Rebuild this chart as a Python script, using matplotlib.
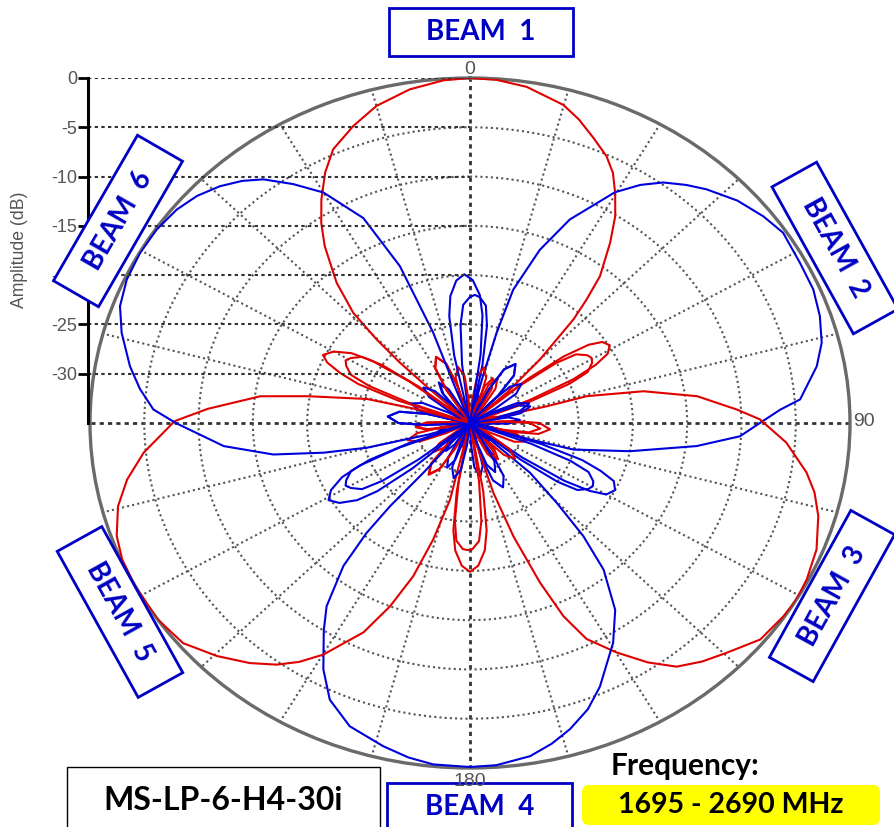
import numpy as np
import matplotlib
matplotlib.use('Agg')
import matplotlib.pyplot as plt
from matplotlib.patches import Rectangle, FancyBboxPatch

#####################################################################
# Beam patterns: angle (deg, clockwise from 0) and
# amplitude (dB); -35 dB is the centre of the plot
#####################################################################

b1_deg = [-180,
          -176, -173, -170, -165, -160, -157, -154,
          -155, -152, -149, -144, -139, -136, -133,
          -118, -115, -112, -107, -102, -99, -96,
          -105, -102, -99, -94, -89, -86, -83,
          -72, -70, -68, -66, -63, -61, -59, -56, -54, -52, -50,
          -47.3, -46.5, -45.4, -43.9, -40.8, -36.7, -34, -31.1, -27.7, -24.4,
          -19.6, -15, -9.3, -4, 0, 4, 8.7, 14.9, 18, 21.4,
          24.9, 27.4, 29.8, 32.5, 35.2, 38.8, 40.6, 42.2, 45, 47.8,
          48, 50, 52, 54, 56, 58.5, 61, 63, 65, 67, 69,
          84, 87, 90, 95, 100, 103, 106,
          99, 102, 105, 110, 115, 118, 121,
          137, 140, 143, 148, 153, 156, 159,
          154, 157, 160, 165, 170, 173, 176,
          180]
b1_db = [-35,
         -35, -34.5, -33.5, -32.5, -33.5, -34.5, -35,
         -35, -32, -29.5, -28.5, -29.5, -32, -35,
         -35, -32.5, -30, -29, -30, -32.5, -35,
         -35, -33.5, -31, -30, -31, -33.5, -35,
         -35, -29, -25, -23, -22.2, -21.9, -22.2, -23, -25, -29, -35,
         -30, -26.1, -22.9, -19.5, -16.2, -12.6, -10.5, -8.5, -6.3, -4.5,
         -3.0, -1.7, -0.7, -0.15, 0, -0.1, -0.5, -1.6, -2.6, -3.9,
         -5.15, -6.4, -8.1, -10.1, -12.6, -15.9, -18.5, -20.8, -25.9, -30.4,
         -35, -28, -24, -21.5, -20.3, -19.9, -20.5, -22, -24.5, -29, -35,
         -35, -31, -28.6, -27.6, -28.6, -31, -35,
         -35, -33, -30.5, -29.5, -30.5, -33, -35,
         -35, -34, -31.5, -30.5, -31.5, -34, -35,
         -35, -34.5, -33.5, -32.5, -33.5, -34.5, -35,
         -35]

b2_deg = [-120,
          -116, -113, -110, -105, -100, -97, -94,
          -96, -93, -90, -85, -80, -77, -74,
          -61, -58, -55, -50, -45, -42, -39,
          -46, -43, -40, -35, -30, -27, -24,
          -9, -7, -5, -3, 0, 2, 4, 7, 9, 11, 13,
          14, 15, 16.4, 20.1, 24, 29.7, 33, 36.1, 39.5, 42.6,
          47.5, 52.2, 56.2, 61.9, 66.8, 71.4, 75.9, 79.8, 85.5, 87.3,
          90, 93.1, 96.4, 101, 105.8, 106.8,
          106, 108, 110, 112, 114, 117, 120, 122, 124, 126, 128,
          144, 147, 150, 155, 160, 163, 166,
          159, 162, 165, 170, 175, 178, 181,
          194, 197, 200, 205, 210, 213, 216,
          214, 217, 220, 225, 230, 233, 236,
          240]
b2_db = [-35,
         -35, -34.5, -33, -32, -33, -34.5, -35,
         -35, -30.9, -28.4, -27.4, -28.4, -30.9, -35,
         -35, -32.9, -30.4, -29.4, -30.4, -32.9, -35,
         -35, -33.7, -31.2, -30.2, -31.2, -33.7, -35,
         -35, -29, -25, -23, -22.2, -22, -22.2, -23, -25, -29, -35,
         -30, -25.5, -20.9, -16.3, -12.4, -8.05, -6.2, -4.8, -3.7, -2.8,
         -1.6, -0.8, -0.3, -0.54, -0.6, -1.0, -1.6, -2.55, -4.5, -6.4,
         -8.3, -10.1, -14, -20, -25.1, -29.2,
         -35, -28, -24, -22, -20.5, -20, -20.5, -22, -24.5, -29, -35,
         -35, -31.3, -28.8, -27.8, -28.8, -31.3, -35,
         -35, -33, -30.5, -29.5, -30.5, -33, -35,
         -35, -33.5, -31, -30, -31, -33.5, -35,
         -35, -34.5, -33, -32, -33, -34.5, -35,
         -35]

b3_deg = [-60,
          -56, -53, -50, -45, -40, -37, -34,
          -36, -33, -30, -25, -20, -17, -14,
          2, 5, 8, 13, 18, 21, 24,
          18, 21, 24, 29, 34, 37, 40,
          48.5, 50.5, 52.5, 54.5, 57.5, 59.5, 61.5, 64.5, 66.5, 68.5, 70.5,
          77, 76.5, 75.8, 78.6, 82.6, 86.8, 89.2, 93.9, 99.2, 102.5,
          106.4, 111.9, 117.1, 121, 124.2, 129.4, 134.6, 138.5, 142.4, 146,
          149.9, 153.9, 156.3, 158.3, 160.8, 163.1, 164.5,
          168, 170, 172, 174, 177, 180, 183, 186, 188, 190, 192,
          205, 208, 211, 216, 221, 224, 227,
          218, 221, 224, 229, 234, 237, 240,
          254, 257, 260, 265, 270, 273, 276,
          274, 277, 280, 285, 290, 293, 296,
          300]
b3_db = [-35,
         -35, -34.5, -33.5, -32.5, -33.5, -34.5, -35,
         -35, -31.1, -28.6, -27.6, -28.6, -31.1, -35,
         -35, -32.7, -30.2, -29.2, -30.2, -32.7, -35,
         -35, -33.3, -30.8, -29.8, -30.8, -33.3, -35,
         -35, -29, -25, -23, -22.2, -22, -22.2, -23, -25, -29, -35,
         -35, -27.7, -23.9, -18.7, -13.9, -10.4, -8.3, -5.8, -3.6, -2.5,
         -1.56, -0.6, -0.16, 0, -0.1, -0.4, -1.8, -2.7, -3.8, -5.7,
         -8.1, -10.6, -13.6, -17.6, -22.8, -27.6, -33,
         -35, -28, -24, -22, -20.5, -19.9, -20.5, -22, -24, -28, -35,
         -35, -32.1, -29.6, -28.6, -29.6, -32.1, -35,
         -35, -34, -31.5, -30.5, -31.5, -34, -35,
         -35, -33.5, -31, -30, -31, -33.5, -35,
         -35, -34.5, -33.5, -32.5, -33.5, -34.5, -35,
         -35]

b4_deg = [0,
          4, 7, 10, 15, 20, 23, 26,
          24, 27, 30, 35, 40, 43, 46,
          59, 62, 65, 70, 75, 78, 81,
          75, 78, 81, 86, 91, 94, 97,
          108.5, 110.5, 112.5, 114.5, 117.5, 119.5, 121.5, 124.5, 126.5, 128.5, 130.5,
          130, 132.4, 135.4, 137.7, 140.4, 144.8, 149.4, 155.9, 159.5, 163.5,
          167, 170.7, 176, 180, 185.6, 189.5, 193.7, 199.8, 204.7, 208.4,
          212.6, 215.4, 218.8, 220.5, 221.1, 220.4, 220,
          227, 229, 231, 233, 236, 239, 242, 245, 247, 249, 251,
          264, 267, 270, 275, 280, 283, 286,
          279, 282, 285, 290, 295, 298, 301,
          314, 317, 320, 325, 330, 333, 336,
          334, 337, 340, 345, 350, 353, 356,
          360]
b4_db = [-35,
         -35, -34.5, -33, -32, -33, -34.5, -35,
         -35, -31.2, -28.7, -27.7, -28.7, -31.2, -35,
         -35, -32.7, -30.2, -29.2, -30.2, -32.7, -35,
         -35, -33.9, -31.4, -30.4, -31.4, -33.9, -35,
         -35, -29, -25, -23, -22.2, -22, -22.2, -23, -25, -29, -35,
         -35, -27.5, -23.6, -19.5, -15.7, -11.8, -9.1, -5.7, -4, -2.6,
         -1.6, -0.75, -0.2, -0.1, -0.2, -0.6, -1.25, -2.3, -4.1, -6.6,
         -10, -12.2, -16.4, -20.3, -23.8, -28.4, -35,
         -35, -28, -24, -22, -20.5, -19.8, -20.5, -22, -24, -28, -35,
         -35, -30.9, -28.4, -27.4, -28.4, -30.9, -35,
         -35, -32.7, -30.2, -29.2, -30.2, -32.7, -35,
         -35, -33.5, -31, -30, -31, -33.5, -35,
         -35, -34.5, -33.5, -32.5, -33.5, -34.5, -35,
         -35]

b5_deg = [60,
          64, 67, 70, 75, 80, 83, 86,
          84, 87, 90, 95, 100, 103, 106,
          120, 123, 126, 131, 136, 139, 142,
          134, 137, 140, 145, 150, 153, 156,
          170, 172, 174, 176, 179, 181, 183, 186, 188, 190, 192,
          192.5, 193.3, 196, 198.6, 201.6, 204.8, 209.9, 213, 216, 219.8,
          224.6, 229.8, 235.4, 241.9, 246.6, 250.6, 255.4, 259.7, 264.3, 270.4,
          273.4, 278, 280.3, 284.4, 286,
          287, 289, 291, 293, 295, 297, 300, 303, 305, 307, 309,
          324, 327, 330, 335, 340, 343, 346,
          338, 341, 344, 349, 354, 357, 360,
          374, 377, 380, 385, 390, 393, 396,
          394, 397, 400, 405, 410, 413, 416,
          420]
b5_db = [-35,
         -35, -34.5, -33.5, -32.5, -33.5, -34.5, -35,
         -35, -32, -29.5, -28.5, -29.5, -32, -35,
         -35, -33, -30.5, -29.5, -30.5, -33, -35,
         -35, -34, -31.5, -30.5, -31.5, -34, -35,
         -35, -29, -25, -23, -22.2, -22.1, -22.2, -23, -25, -29, -35,
         -35, -27, -22.7, -18.6, -15, -11.6, -7.9, -6.1, -4.7, -3.3,
         -1.8, -0.4, 0, 0, -0.1, -0.5, -1.5, -2.9, -4.8, -7.8,
         -10.8, -15.5, -19.8, -25.2, -30,
         -35, -28, -24, -22, -20.5, -19.8, -20.5, -22, -24, -28, -35,
         -35, -31.1, -28.6, -27.6, -28.6, -31.1, -35,
         -35, -32.7, -30.2, -29.2, -30.2, -32.7, -35,
         -35, -33.5, -31, -30, -31, -33.5, -35,
         -35, -34.5, -33.5, -32.5, -33.5, -34.5, -35,
         -35]

b6_deg = [120,
          124, 127, 130, 135, 140, 143, 146,
          144, 147, 150, 155, 160, 163, 166,
          184, 187, 190, 195, 200, 203, 206,
          207, 210, 213, 218, 223, 226, 229,
          230, 232, 234, 236, 239, 241, 243, 246, 248, 250, 252,
          253, 255.2, 257.4, 260, 264.1, 270, 272.7, 276.5, 280.4, 285.9,
          290.2, 294.7, 299.6, 304.2, 308.7, 312.5, 316.2, 319.5, 322.4, 326.1,
          330, 334.7, 337.9, 339.7, 339.3, 339,
          346, 348, 350, 352, 355, 358, 361, 364, 366, 368, 370,
          384, 387, 390, 395, 400, 403, 406,
          399, 402, 405, 410, 415, 418, 421,
          422, 425, 428, 433, 438, 441, 444,
          454, 457, 460, 465, 470, 473, 476,
          480]
b6_db = [-35,
         -35, -34.5, -33.5, -32.5, -33.5, -34.5, -35,
         -35, -33, -30.5, -29.5, -30.5, -33, -35,
         -35, -32.7, -30.2, -29.2, -30.2, -32.7, -35,
         -35, -34.5, -32.4, -31.4, -32.4, -34.5, -35,
         -35, -29, -25, -23, -22.2, -21.9, -22.2, -23, -25, -29, -35,
         -31, -25.2, -21.2, -16.6, -12.2, -7.9, -5.8, -4.4, -3.16, -1.64,
         -0.65, -0.2, -0.05, -0.1, -0.38, -0.9, -1.72, -2.7, -3.8, -5.8,
         -8, -12, -17.8, -25.2, -30.6, -35,
         -35, -28, -24, -22, -20.5, -19.9, -20.5, -22, -24, -28, -35,
         -35, -31.2, -28.7, -27.7, -28.7, -31.2, -35,
         -35, -32.3, -29.8, -28.8, -29.8, -32.3, -35,
         -35, -32.7, -30.2, -29.2, -30.2, -32.7, -35,
         -35, -34.5, -33.5, -32.5, -33.5, -34.5, -35,
         -35]

amp_ticks = [0, -5, -10, -15, -20, -25, -30]
theta_ticks = np.arange(0, 360, 15)

red = '#e00000'
blue = '#0000dd'
label_blue = '#0000c4'

#####################################################################
# Polar pattern
#####################################################################

fig = plt.figure(figsize=(8.95, 8.27), dpi=100)

ax = fig.add_axes([90/895, 59/827, 760/895, 690/827], projection='polar')
ax.set_aspect('auto')
ax.set_theta_zero_location('N')
ax.set_theta_direction(-1)

# spokes: the four main ones run to the centre, the others stop at -30 dB
for t in theta_ticks:
    if t % 90 == 0:
        ax.plot([np.deg2rad(t)] * 2, [-35, 0], color='#333333',
                linestyle=(0, (1.5, 1.5)), lw=2, zorder=1)
    else:
        ax.plot([np.deg2rad(t)] * 2, [-30, 0], color='#555555',
                linestyle=(0, (1, 1.5)), lw=1.5, zorder=1)

beams = [(b1_deg, b1_db, red), (b2_deg, b2_db, blue), (b3_deg, b3_db, red),
         (b4_deg, b4_db, blue), (b5_deg, b5_db, red), (b6_deg, b6_db, blue)]
for deg, db, col in beams:
    ax.plot(np.deg2rad(deg), db, color=col, lw=1.5, zorder=3)

ax.set_ylim(-35, 0)
ax.set_yticks([-30, -25, -20, -15, -10, -5, 0])
ax.set_yticklabels([])
ax.set_xticks(np.deg2rad(theta_ticks))
ax.set_xticklabels([])
ax.yaxis.grid(True, color='#555555', linestyle=(0, (1, 1.5)), linewidth=1.5)
ax.xaxis.grid(False)
ax.spines['polar'].set_color('#6a6a6a')
ax.spines['polar'].set_linewidth(2.4)

#####################################################################
# Amplitude scale on the left
#####################################################################

ax2 = fig.add_axes([88/895, 404/827, 382/895, 345/827])
ax2.set_xlim(0, 1)
ax2.set_ylim(-35, 0)
ax2.patch.set_visible(False)
for s in ['top', 'right', 'bottom']:
    ax2.spines[s].set_visible(False)
ax2.spines['left'].set_linewidth(2.2)
ax2.set_xticks([])
ax2.set_yticks(amp_ticks)
ax2.set_yticklabels([str(t) for t in amp_ticks], family='Liberation Sans')
ax2.tick_params(axis='y', length=7, width=2, color='black', labelcolor='#555555',
                labelsize=13, pad=1)
ax2.yaxis.grid(True, color='#333333', linestyle=(0, (1.6, 1.6)), linewidth=1.5)

#####################################################################
# Labels and boxes (pixel coordinates)
#####################################################################

ov = fig.add_axes([0, 0, 1, 1])
ov.set_xlim(0, 895)
ov.set_ylim(827, 0)
ov.axis('off')

ov.text(20, 250, 'Amplitude (dB)', rotation=90, ha='center', va='center',
        fontsize=12.7, color='#555555', family='Liberation Sans')

# angle labels
ov.text(470, 70, '0', ha='center', va='center', fontsize=14, color='#555555',
        family='Liberation Sans')
ov.text(853, 422, '90', ha='left', va='center', fontsize=14, color='#555555',
        family='Liberation Sans')
ov.text(470, 782, '180', ha='center', va='center', fontsize=14, color='#555555',
        family='Liberation Sans')

beam_boxes = [('BEAM  1', 481, 32, 184, 48, 0),
              ('BEAM  2', 835, 248, 168, 51, -61),
              ('BEAM  3', 832, 596, 168, 50, 61),
              ('BEAM  4', 480, 807, 185, 48, 0),
              ('BEAM  5', 120, 612, 167, 51, -61),
              ('BEAM  6', 118, 221, 168, 52, 60)]
for txt, cx, cy, w, h, a in beam_boxes:
    ov.add_patch(Rectangle((cx - w/2, cy - h/2), w, h, angle=-a, rotation_point='center',
                           fc='white', ec=label_blue, lw=2))
    ov.text(cx, cy, txt, rotation=a, rotation_mode='anchor', ha='center', va='center',
            fontsize=20, fontweight='bold', color=label_blue, family='Lato')

ov.add_patch(Rectangle((67, 767), 313, 80, fc='white', ec='black', lw=1))
ov.text(223, 801, 'MS-LP-6-H4-30i', ha='center', va='center', fontsize=23,
        fontweight='bold', color='black', family='Lato')

ov.text(685, 766, 'Frequency:', ha='center', va='center', fontsize=21.5,
        fontweight='bold', color='black', family='Lato')
ov.add_patch(FancyBboxPatch((582, 785), 298, 40, boxstyle='round,pad=0,rounding_size=7',
                            fc='#ffff00', ec='none'))
ov.text(731, 805, '1695 - 2690 MHz', ha='center', va='center', fontsize=20.5,
        fontweight='bold', color='black', family='Lato')

fig.savefig('out.png', dpi=100)
